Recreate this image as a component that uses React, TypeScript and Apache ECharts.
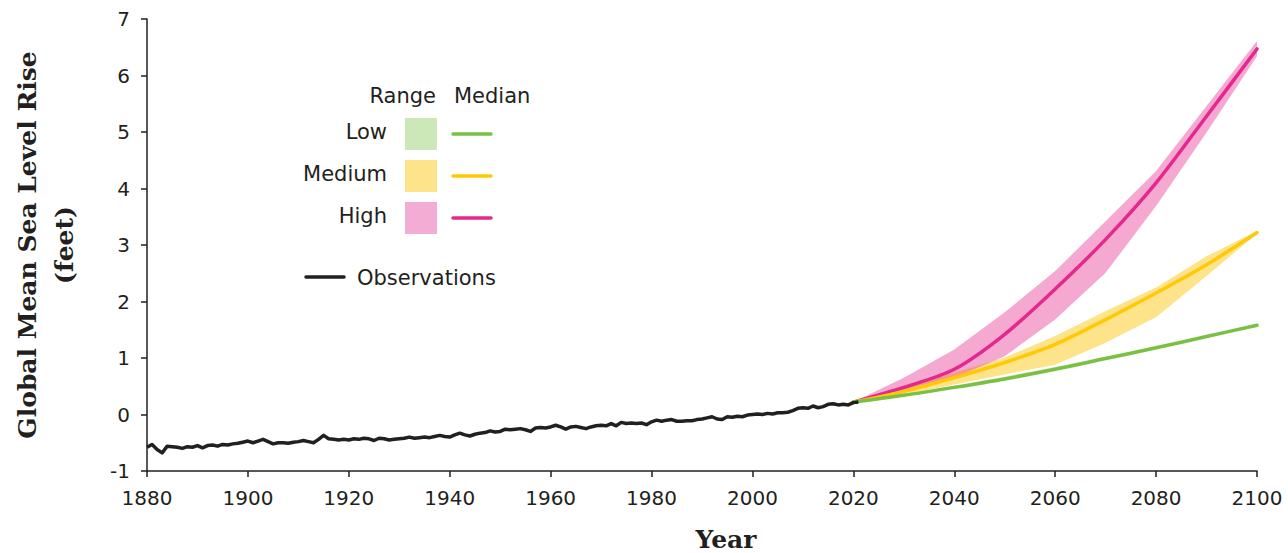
import React, { useEffect, useRef } from "react";
import * as echarts from "echarts";

const obsStartYear = 1880;
const obsValues = [
  -0.58, -0.53, -0.62, -0.68, -0.56, -0.57, -0.58, -0.6, -0.57, -0.58,
  -0.55, -0.59, -0.55, -0.54, -0.56, -0.53, -0.54, -0.52, -0.51, -0.49,
  -0.47, -0.5, -0.47, -0.44, -0.48, -0.52, -0.5, -0.5, -0.51, -0.49,
  -0.48, -0.46, -0.48, -0.5, -0.44, -0.37, -0.43, -0.44, -0.45, -0.44,
  -0.45, -0.43, -0.44, -0.42, -0.43, -0.46, -0.42, -0.43, -0.45, -0.44,
  -0.43, -0.42, -0.4, -0.42, -0.41, -0.4, -0.41, -0.39, -0.37, -0.39,
  -0.4, -0.36, -0.33, -0.36, -0.38, -0.35, -0.33, -0.32, -0.29, -0.31,
  -0.3, -0.26, -0.27, -0.26, -0.25, -0.27, -0.3, -0.24, -0.23, -0.24,
  -0.22, -0.19, -0.22, -0.26, -0.22, -0.21, -0.23, -0.25, -0.22, -0.2,
  -0.19, -0.2, -0.16, -0.2, -0.14, -0.16, -0.15, -0.16, -0.15, -0.18,
  -0.13, -0.1, -0.12, -0.1, -0.09, -0.12, -0.12, -0.11, -0.11, -0.09,
  -0.08, -0.06, -0.04, -0.08, -0.09, -0.04, -0.05, -0.03, -0.04, -0.01,
  0.0, 0.01, 0.0, 0.02, 0.01, 0.03, 0.03, 0.04, 0.07, 0.11,
  0.12, 0.11, 0.15, 0.12, 0.14, 0.18, 0.19, 0.17, 0.18, 0.17,
  0.21, 0.22,
];

const projYears = [2020, 2030, 2040, 2050, 2060, 2070, 2080, 2090, 2100];
const lowLower = [0.22, 0.33, 0.47, 0.62, 0.79, 0.98, 1.17, 1.37, 1.57];
const lowMedian = [0.22, 0.34, 0.48, 0.63, 0.8, 0.99, 1.18, 1.38, 1.58];
const lowUpper = [0.22, 0.36, 0.51, 0.67, 0.84, 1.02, 1.2, 1.4, 1.6];
const medLower = [0.22, 0.35, 0.53, 0.71, 0.88, 1.27, 1.72, 2.45, 3.2];
const medMedian = [0.22, 0.41, 0.65, 0.92, 1.24, 1.68, 2.15, 2.65, 3.22];
const medUpper = [0.22, 0.47, 0.74, 1.01, 1.39, 1.83, 2.25, 2.8, 3.25];
const highLower = [0.22, 0.4, 0.65, 1.03, 1.68, 2.51, 3.69, 4.99, 6.34];
const highMedian = [0.22, 0.48, 0.8, 1.42, 2.22, 3.1, 4.1, 5.28, 6.47];
const highUpper = [0.22, 0.65, 1.15, 1.81, 2.54, 3.42, 4.31, 5.46, 6.61];

const legendTitles = ["Range", "Median"];
const scenarioNames = ["Low", "Medium", "High"];
const observationsLabel = "Observations";
const yAxisTitle = ["Global Mean Sea Level Rise", "(feet)"];
const xAxisTitle = "Year";

const INK = "#231f20";
const GREEN = "#7ac143";
const GREEN_BAND = "#cde8b8";
const YELLOW = "#ffc907";
const YELLOW_BAND = "#fde48a";
const PINK = "#e4288d";
const PINK_BAND_LEGEND = "#f3acd3";
const PINK_BAND = "rgba(231,40,140,0.4)";
const SANS = "'DejaVu Sans', sans-serif";
const SERIF = "'DejaVu Serif', serif";

const pairs = (ys: number[]) => projYears.map((y, i) => [y, ys[i]]);

function band(name: string, lo: number[], hi: number[], color: string) {
  return {
    name,
    type: "custom",
    silent: true,
    data: projYears.map((y, i) => [y, lo[i], hi[i]]),
    encode: { x: 0, y: [1, 2] },
    renderItem: (params: any, api: any) => {
      if (params.dataIndex !== 0) return null;
      const top = projYears.map((y, i) => api.coord([y, hi[i]]));
      const bottom = projYears
        .map((y, i) => api.coord([y, lo[i]]))
        .reverse();
      return {
        type: "polygon",
        shape: { points: top.concat(bottom) },
        style: { fill: color },
      };
    },
  };
}

function median(name: string, ys: number[], color: string) {
  return {
    name,
    type: "line",
    data: pairs(ys),
    symbol: "none",
    smooth: 0.3,
    lineStyle: { color, width: 3.5, cap: "round" },
  };
}

function txt(text: string, x: number, y: number, align: string, size = 21) {
  return {
    type: "text",
    style: {
      text,
      x,
      y,
      align,
      verticalAlign: "middle",
      font: `${size}px ${SANS}`,
      fill: INK,
    },
  };
}

export default function App() {
  const ref = useRef<HTMLDivElement>(null);
  useEffect(() => {
    if (!ref.current) return;
    const chart = echarts.init(ref.current, null, { renderer: "svg" });
    const obs = obsValues.map((v, i) => [obsStartYear + i, v]);

    const rowY = [134, 176, 218];
    const rowColors = [
      [GREEN_BAND, GREEN],
      [YELLOW_BAND, YELLOW],
      [PINK_BAND_LEGEND, PINK],
    ];
    const graphics: any[] = [
      txt(legendTitles[0], 436, 96, "right"),
      txt(legendTitles[1], 454, 96, "left"),
    ];
    scenarioNames.forEach((n, i) => {
      graphics.push(txt(n, 387, rowY[i] - 2, "right"));
      graphics.push({
        type: "rect",
        shape: { x: 405, y: rowY[i] - 16, width: 32, height: 32 },
        style: { fill: rowColors[i][0] },
      });
      graphics.push({
        type: "line",
        shape: { x1: 453, y1: rowY[i], x2: 491, y2: rowY[i] },
        style: { stroke: rowColors[i][1], lineWidth: 3.5, lineCap: "round" },
      });
    });
    graphics.push({
      type: "line",
      shape: { x1: 306, y1: 277, x2: 344, y2: 277 },
      style: { stroke: INK, lineWidth: 3.5, lineCap: "round" },
    });
    graphics.push(txt(observationsLabel, 357, 278, "left"));
    [
      [yAxisTitle[0], 27],
      [yAxisTitle[1], 64],
    ].forEach(([t, x]) => {
      graphics.push({
        type: "text",
        rotation: Math.PI / 2,
        x: x as number,
        y: 245,
        style: {
          text: t as string,
          x: 0,
          y: 0,
          align: "center",
          verticalAlign: "middle",
          font: `bold 25px ${SERIF}`,
          fill: INK,
        },
      });
    });
    graphics.push({
      type: "text",
      style: {
        text: xAxisTitle,
        x: 726,
        y: 539,
        align: "center",
        verticalAlign: "middle",
        font: `bold 25px ${SERIF}`,
        fill: INK,
      },
    });

    chart.setOption({
      animation: false,
      grid: { left: 147, right: 31, top: 19, bottom: 82, containLabel: false },
      xAxis: {
        type: "value",
        min: 1880,
        max: 2100,
        interval: 20,
        splitLine: { show: false },
        axisLine: { onZero: false, lineStyle: { color: INK, width: 1.5 } },
        axisTick: { show: true, length: 6, lineStyle: { color: INK, width: 1.5 } },
        axisLabel: {
          color: INK,
          fontFamily: SANS,
          fontSize: 20,
          margin: 17,
          formatter: (v: number) => String(v),
        },
      },
      yAxis: {
        type: "value",
        min: -1,
        max: 7,
        interval: 1,
        splitLine: { show: false },
        axisLine: { show: true, onZero: false, lineStyle: { color: INK, width: 1.5 } },
        axisTick: { show: true, length: 6, lineStyle: { color: INK, width: 1.5 } },
        axisLabel: { color: INK, fontFamily: SANS, fontSize: 20, margin: 17 },
      },
      graphic: graphics,
      series: [
        band("Medium range", medLower, medUpper, YELLOW_BAND),
        band("High range", highLower, highUpper, PINK_BAND),
        band("Low range", lowLower, lowUpper, GREEN_BAND),
        median("High median", highMedian, PINK),
        median("Medium median", medMedian, YELLOW),
        median("Low median", lowMedian, GREEN),
        {
          name: "Observations",
          type: "line",
          data: obs,
          symbol: "none",
          lineStyle: { color: INK, width: 3.5, join: "round" },
        },
      ],
    });
    return () => chart.dispose();
  }, []);
  return (
    <div
      ref={ref}
      style={{ position: "absolute", left: 0, top: 0, width: 1288, height: 553 }}
    />
  );
}
